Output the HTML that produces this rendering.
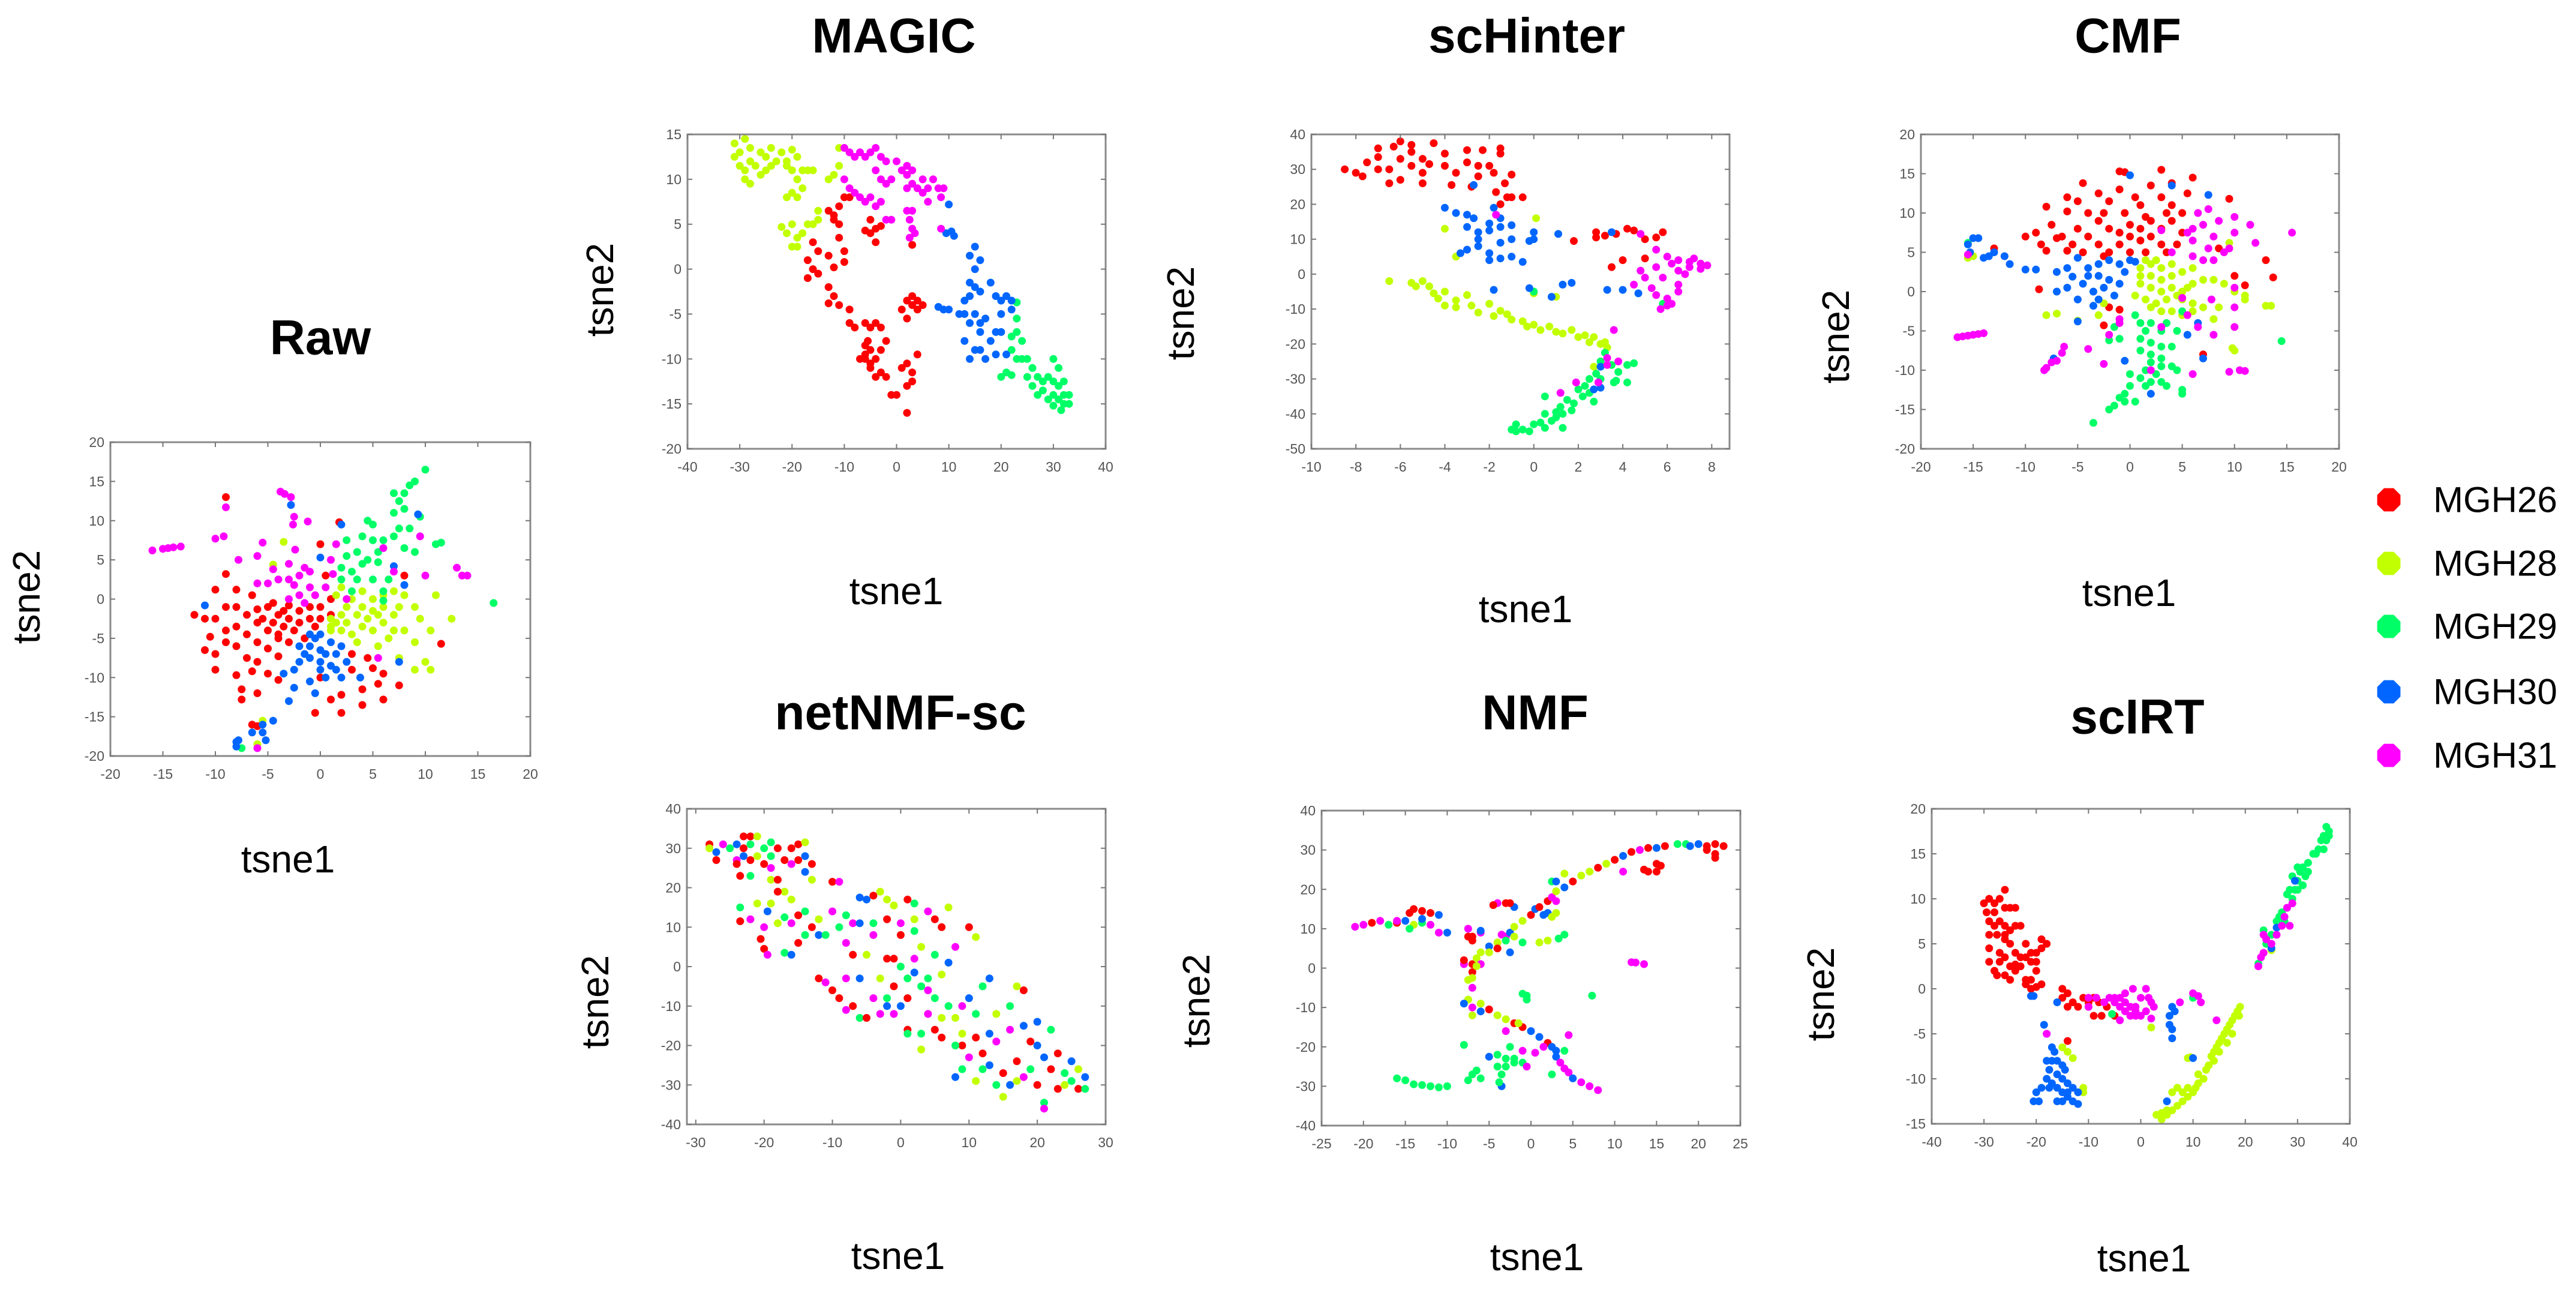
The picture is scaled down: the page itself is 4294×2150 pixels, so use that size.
<!DOCTYPE html>
<html><head><meta charset="utf-8"><style>
html,body{margin:0;padding:0;background:#fff;}
svg{display:block;}
</style></head><body>
<svg id="fig" width="4294" height="2150" viewBox="0 0 4294 2150" xmlns="http://www.w3.org/2000/svg" font-family="Liberation Sans, sans-serif"></svg>
<script>
// ---------- data ----------
const groupNames = ["MGH26","MGH28","MGH29","MGH30","MGH31"];
const groupColors = ["#ff0000","#c2ff00","#00ff66","#0066ff","#ff00ff"];

const rawXTicks=[-20,-15,-10,-5,0,5,10,15,20];
const rawYTicks=[-20,-15,-10,-5,0,5,10,15,20];
const magicXTicks=[-40,-30,-20,-10,0,10,20,30,40];
const magicYTicks=[-20,-15,-10,-5,0,5,10,15];
const schXTicks=[-10,-8,-6,-4,-2,0,2,4,6,8];
const schYTicks=[-50,-40,-30,-20,-10,0,10,20,30,40];
const cmfXTicks=[-20,-15,-10,-5,0,5,10,15,20];
const cmfYTicks=[-20,-15,-10,-5,0,5,10,15,20];
const netXTicks=[-30,-20,-10,0,10,20,30];
const netYTicks=[-40,-30,-20,-10,0,10,20,30,40];
const nmfXTicks=[-25,-20,-15,-10,-5,0,5,10,15,20,25];
const nmfYTicks=[-40,-30,-20,-10,0,10,20,30,40];
const scirtXTicks=[-40,-30,-20,-10,0,10,20,30,40];
const scirtYTicks=[-15,-10,-5,0,5,10,15,20];

const rawRed=[[-12,-2],[-11,-2.5],[-10,-2.5],[-10,1.2],[-9,-1],[-9,-4],[-9,-5.5],[-9,3.2],[-8,-1],[-8,1.2],[-8,-3.5],[-8,-6],[-8,-9.7],[-7.5,-11.5],[-7.5,-12.8],[-7,-2],[-7,-4.5],[-7,-7.5],[-6.5,0.5],[-6.5,-9.2],[-6,-1.3],[-6,-3],[-6,-5.5],[-6,-8],[-6,-12],[-5.5,-2.5],[-5,-1],[-5,-4],[-5,-6.3],[-5,-9.5],[-4.5,-0.5],[-4.5,-3],[-4,-2],[-4,-4.5],[-4,-10.3],[-4,-7.3],[-3.5,-1.5],[-3.5,-3.5],[-3,-0.8],[-3,-2.5],[-3,-5.5],[-2.5,-4],[-2,-1.5],[-2,-3],[-1.5,-5],[-1,-1],[-1,-2.5],[-0.5,-3.5],[0,-1],[0,-2.5],[0,7],[0.5,3],[1.8,9.8],[0,-10],[-0.5,-14.5],[2,-14.5],[1,-12.8],[2,-12.2],[3,-9],[4,-11.5],[4,-13.5],[4.5,-7.5],[5,-8.8],[6,-9.5],[5.5,-10.8],[6,-12.8],[7.5,-11],[8,3],[11.5,-5.7],[-11,-6.5],[-10,-7],[-10,-9],[-6.5,-16],[-6,-16.2],[-4,-5],[1,0],[1,-2],[-10.5,-4.8],[3,-7],[-9,13]];
const rawYellow=[[1,-2.5],[1,-3.5],[1,-4],[1.5,-3],[2,-2],[2,-4],[2.5,-1],[2.5,-3],[3,0],[3,-4.5],[3.5,-2],[3.5,-5.5],[4,1],[4,-1],[4,-3.5],[4.5,-2.5],[5,0],[5,-1.5],[5,-4],[5.5,-2],[5.5,-6],[6,0.5],[6,-1],[6,-3],[6.5,-5],[7,1],[7,-2],[7,-4],[7.5,-1],[8,0.5],[8,-4],[9,-1],[9,-5.5],[9.5,-2.5],[10,-8],[10.5,-9],[11,0.5],[10.5,-4],[12.5,-2.5],[9,-9],[-3.5,7.3],[-4.5,4.4],[-6,-18.5],[-5.5,-15.5],[7.5,-7.5],[2,1.5],[1.5,0.5]];
const rawGreen=[[2,4],[2,2.5],[2.5,5.5],[2.5,7.5],[3,1],[3.5,6],[3.5,2.5],[4,4.5],[4,8],[4.5,10],[4.5,5],[5,7.5],[5,9.5],[5,2.5],[5.5,4.7],[5.5,6],[6,7.5],[6,1],[6.5,2.5],[7,8],[7,11],[7,13.5],[7.5,12.5],[7.5,9],[8,6.5],[8,13.5],[8,11.5],[8.5,14.5],[8.5,9],[9,15],[9,6],[9.5,10.5],[10,16.5],[11,7],[11.5,7.2],[16.5,-0.5],[-7.5,-19],[6,-0.2],[3,3.5]];
const rawBlue=[[-11,-0.8],[-1,-4.5],[-1,-6],[-1,-7.5],[-1.5,-7],[-2,-6],[-2,-8],[-2.5,-9],[-2.5,-11.3],[-3,-13],[-3.5,-9.5],[-0.5,-5],[0,-4.5],[0,-6.5],[0,-8],[0,-9],[0.5,-7],[0.5,-10],[1,-5.5],[1,-8.5],[1.5,-7],[1.5,-9],[2,-6],[2,-10],[2.5,-8],[-1,-10.5],[-0.5,-12],[-4.5,-15.5],[-5.5,-16],[-5.5,-17],[-5.2,-18],[-6.5,-17],[-8,-18.2],[-8,-18.8],[-7.8,-18],[0,5.3],[9.3,10.8],[7,4.2],[8,1.8],[7.5,-8],[2,9.5],[3.8,-10],[-2.8,12]];
const rawMagenta=[[-16,6.2],[-15,6.4],[-14.5,6.5],[-14,6.6],[-13.3,6.7],[-9,11.7],[-10,7.7],[-9.2,8],[-3.8,13.7],[-3.4,13.4],[-2.8,13],[-2.5,10.5],[-2.6,9.5],[-1.2,9.9],[-7.8,5],[-6,5.5],[-5.5,7.2],[-4.5,3.8],[-2.4,6.3],[-3,4.5],[-4,2.5],[-6,2],[-5,2],[-3,2.5],[-2,3],[-1.5,4],[-1,3.5],[-1,1.5],[-0.5,0.5],[-2,0.5],[0.5,1.5],[1,5],[1.5,7],[1.2,3.2],[2.5,0],[-2.5,1.8],[-3,0],[-1.5,-0.5],[6,6.5],[7,3.5],[10,3],[13,4],[13.5,3],[14,3],[-6,-19],[5.5,-7.5],[9.5,8]];

const magicYellow=[[-31,14],[-30,13],[-29,14.5],[-28,13.5],[-31,12.5],[-30,11.5],[-29,11],[-28,12],[-27,11.5],[-29,10],[-28,9.5],[-26,13],[-25,12.5],[-24,13.5],[-25,11],[-26,10.5],[-24,11.5],[-23,12],[-22,13],[-21,12],[-20,13.3],[-19,12.5],[-20,11],[-21,11.5],[-19,10],[-18,11],[-17,11],[-16,11],[-19,8],[-20,8.5],[-21,8],[-18,9],[-13,10],[-12,10.5],[-11,11.5],[-11,13.5],[-22,4.7],[-21,4],[-20,5],[-19,3.5],[-20,2.5],[-19,2.5],[-18,4],[-17,5],[-16,5],[-15,6.5],[-15,5.5]];
const magicMagenta=[[-10,13.5],[-9,13],[-8,12.5],[-7,13],[-6,12.5],[-5,13],[-4,13.5],[-3,12.5],[-2,12],[0,12],[1,11],[2,11.5],[2,10.5],[3,11],[-4,11],[-3,10],[-2,9.5],[-1,10],[2,9],[3,9.5],[4,9],[5,10],[6,9],[7,10],[8,9],[9,9],[8.5,8],[6,7.5],[5,8.5],[-10,10],[-9,9],[-8,8.5],[-7,8],[-6,7.5],[-5,8],[-4,7],[-3,7.5],[-1,5.5],[-2,5.5],[2,6.5],[3,6.5],[2.5,5.5],[3,4.5],[3.5,4],[2.5,3.5],[8.5,4.5]];
const magicRed=[[-13,6.5],[-12,6],[-11,7],[-10,8],[-9,8],[-12,5.5],[-11,5],[-11,3.5],[-10,2],[-10,0.8],[-13,1.5],[-12,0.2],[-15,2],[-16,3],[-17,1],[-16,0],[-17,-1],[-15,-0.5],[-13,-2],[-13,-3.8],[-12,-3],[-11,-4],[-9,-4.5],[-9,-6],[-8,-6.5],[-6,-6],[-5,-6.5],[-4,-6],[-3,-6.5],[-6,-8.5],[-5,-9],[-6,-10],[-5,-11],[-4,-10],[-3,-9],[-2,-8],[-3,-11.5],[-2,-12],[-4,-12],[-1,-14],[0,-14],[1,-11],[2,-10.5],[3,-11.5],[3,-12.5],[2,-13],[2,-16],[1,-4.5],[2,-5.5],[2,-3.5],[3,-4],[4,-3.5],[3,-3],[4,-4.5],[5,-4],[4,-9.5],[-4,4.5],[-5,4],[-4,3],[-3,4.8],[-6,4.3],[-5,5.5],[3,2.7],[-7,-10],[-5,-10.5],[-6,-9.5],[-5.5,-8]];
const magicBlue=[[10,7.2],[9.5,4],[10.5,4.2],[11,3.7],[15,2.5],[14,1.5],[16,1],[15,0],[14,-1.5],[15,-2],[16,-2.5],[13,-3.5],[14,-3],[15,-5],[13,-5],[12,-5],[9,-4.5],[8,-4.2],[10,-4.5],[14,-6],[16,-6],[17,-5.5],[18,-1.5],[19,-3],[20,-3.5],[21,-3],[22,-3.5],[22,-4.5],[20,-5],[19,-7],[20,-7],[14,-10],[15,-9],[16,-9],[17,-10],[18,-8],[16,-7],[21,-9.5],[19,-9.5],[13,-8]];
const magicGreen=[[23,-3.7],[23,-5.5],[23,-7],[22,-7.5],[24,-8],[22,-9],[23,-10],[24,-10],[25,-10],[26,-11],[25,-12],[27,-12],[26,-13],[28,-12.5],[29,-12],[30,-10],[31,-11],[30,-12.5],[31,-13],[32,-12.5],[30,-14],[31,-14.5],[32,-15],[33,-15],[32,-14],[33,-14],[28,-13.5],[27,-14],[29,-14.5],[20,-12],[21,-11.5],[22,-11.8],[30,-15.2],[31.5,-15.7]];

const schRed=[[-8.5,30],[-8,29],[-7.7,28],[-7.5,32],[-7,33.5],[-7,36],[-7,30],[-6.5,30],[-6,33],[-6.3,36.5],[-6,38],[-5.5,37],[-5.5,35],[-5.5,31],[-5,33],[-5,29],[-4.7,31.5],[-4.5,37.5],[-4,34.5],[-4,31],[-3.5,29],[-3,35.5],[-3,32],[-2.5,31],[-2.5,28],[-2.3,35.5],[-2,31],[-1.8,29],[-1.5,36],[-1.5,34.5],[-1.3,26],[-1.7,23.5],[-1.5,20],[-1.2,22],[-1,22],[-0.5,22],[-1,28.5],[-6.5,26],[-6,27],[-5,26],[-3.7,25.5],[-2.8,25],[1.8,9.5],[2.8,12],[2.8,10.5],[3.2,11],[3.7,11.5],[4.2,13],[4.5,12.5],[5.5,10.5],[5.8,12],[4,4],[5,4.5],[3.5,2],[5,10]];
const schBlue=[[-4,19],[-3.5,17.5],[-3,17],[-2.7,16],[-3,13.5],[-2.5,12],[-2.5,10],[-2,12.5],[-2,14.5],[-1.5,13.5],[-1.8,19],[-1.5,16],[-1,14],[-1,10],[-1.5,9],[-2.5,8],[-3,7],[-3.3,6],[-2,6],[-1.5,4.5],[-2,4],[-1,5],[-0.5,3.5],[-0.2,9.5],[0,10],[0,12],[1.1,11.5],[-2.7,25.5],[-1.8,-4.5],[-0.2,-4],[0.8,-6.5],[1.3,-3],[1.7,-2.5],[3.3,-4.5],[4,-4.5],[4.7,-5.5],[3.5,12],[3,-26.5],[2.7,-33],[3,-32.5]];
const schYellow=[[-6.5,-2],[-5.5,-2.5],[-5,-2],[-4.7,-3.5],[-4.5,-5.5],[-4.3,-7],[-4,-5],[-4,-9],[-3.5,-7.5],[-3.5,-9.5],[-3,-6],[-2.8,-9],[-2.5,-11],[-2,-8.5],[-1.8,-12],[-1.5,-10.5],[-1.2,-11.5],[-1,-13],[-0.5,-13.5],[-0.3,-15],[0,-14.5],[0.3,-16],[0.7,-15],[1,-16.5],[1.3,-17],[1.7,-16],[2,-18],[2.3,-17.5],[2.5,-19.5],[2.7,-18],[3,-20],[3.2,-19.5],[3.3,-21],[-4,13],[-3.5,5],[0.1,16],[0,-5.5],[1,-6.5],[2.7,-26.5],[-5.3,-3.5]];
const schGreen=[[3.2,-22.5],[3,-25],[3.5,-26],[3.8,-28],[4.2,-31],[3.6,-31],[3,-30],[2.8,-28.5],[2.5,-30],[2.3,-32],[2.5,-34],[2.7,-36.5],[2.2,-35],[2,-33],[1.8,-37],[1.7,-39],[1.5,-36],[1.2,-38],[1.3,-40],[1,-41],[1,-39.5],[0.8,-42],[0.5,-40],[0.3,-42.5],[0.5,-44],[0,-43],[-0.2,-45],[-0.5,-44.5],[-0.8,-43],[-0.8,-45],[-1,-44.5],[0.5,-35],[1.3,-44],[0,-5],[5.8,-8.5],[4.5,-25.5],[4.2,-26],[3.7,-30.5]];
const schMagenta=[[-1.7,17],[3.6,-16],[3.3,-24],[3.3,-26],[3.8,-25],[2.9,-31],[1.2,-34],[1.9,-31],[4.8,11.5],[5.5,7],[6,5],[6.5,4],[6.2,3],[7,2],[7,3.5],[7.5,1.5],[7.8,2.5],[6.5,1],[5.5,2],[5.8,-1],[5,-1],[4.5,-3],[5.3,-4],[5.5,-6],[6,-7],[6,-9],[5.7,-10],[6.2,-8.5],[6.5,-5],[6.5,-3],[6.8,0],[7.5,3],[4.8,1],[7.2,4.5]];

const cmfRed=[[-1,15.3],[-0.5,15.2],[3,15.5],[6,14.5],[-4.5,13.8],[-1,13],[2,13.5],[4,13.8],[5.5,12.5],[-6,12],[-3,12.5],[0.5,12],[3,12],[-8,10.8],[-5,11.5],[-2,11.5],[1,11],[4,11],[9.5,11.8],[-6,10.2],[-4,10],[-2.5,10],[-0.5,10],[1.5,9.5],[3.5,10],[5,10],[-10,7],[-9,7.5],[-7.5,8.5],[-6.5,7],[-5,8],[-3,9],[-2,8],[-1,7.5],[0,8.5],[1,8],[2,9],[3,8],[4,9],[-8.5,6],[-7,6.8],[-5.5,6],[-4,7],[-3,6],[-2,5],[-1,6],[0,7],[1,6.5],[2,7],[3,6],[4.5,6],[-8,5.2],[-6,5.2],[-4.5,5],[-2.5,4.5],[0,5],[1.5,5],[3.5,5],[5,7.5],[8.5,5.5],[10,2],[13,4],[13.7,1.8],[11,0.8],[-13,5.5],[-8.7,0.3],[-2,-2],[-1,-2.3],[-2.5,-4.3],[7,-8]];
const cmfBlue=[[-15.5,6],[-15,6.8],[-14.5,6.8],[-15.3,5],[-14,4.3],[-13.5,4.5],[-13,5],[-12,4.5],[-11.5,3.5],[-10,2.8],[-9,2.8],[-7,2.5],[-6,3],[-5,4.3],[-5.5,1.9],[-4.5,1],[-4,3],[-3,3.5],[-2,4],[-1,3.5],[0,4],[-4,2],[-3,2],[-2,1.5],[-1,1],[-0.5,2.5],[-3.5,0],[-2.5,0.5],[-1.5,-0.5],[-3,-1],[-6,0.5],[-7,0],[-5,-1],[-3.5,-1.8],[0,14.8],[4,13.5],[7.5,12.3],[0.5,3.8],[-5,-3.8],[5.5,-5.5],[6.5,-4],[-0.5,-8.8],[2,-13],[7,-8.5],[-7.3,-8.5]];
const cmfYellow=[[-15,4.5],[-15.5,4.3],[-12,4.5],[1,3],[1.5,4],[2,3.5],[2.5,4],[3,3],[4,3.5],[1,2],[2,2],[3,1.5],[4,2],[5,2.5],[6,3],[1,1],[2,0.5],[3,0],[4,0.5],[5,0],[6,1],[7,1.5],[8,1.5],[0.5,-0.5],[1.5,-1],[2.5,-1.5],[3.5,-1],[4.5,-0.5],[5,-1],[5.5,0.5],[6,-1.5],[2,-2],[3,-2.5],[4,-2.5],[5,-3],[6,-2.5],[7,-2],[8,-3.5],[8.5,-2],[9,1],[10,0],[11,-1],[11,-0.5],[13,-1.8],[13.5,-1.8],[9.5,5.5],[9.5,6.2],[10,-4.5],[10,-7.5],[9.8,-7.2],[-7,-2.8],[-8,-3],[-3,-3],[-5,-3.7],[-2.5,-1.5]];
const cmfGreen=[[0.5,-3],[1,-4],[1.5,-5],[2,-4],[1,-6],[2,-6.5],[3,-5],[3,-7],[1,-7.5],[2,-8],[3,-8.5],[4,-7],[2,-9],[1.5,-10],[2.5,-10.5],[3,-9.5],[4,-9.5],[4.5,-10],[1,-11],[0,-10.5],[1.5,-12],[2,-11.5],[0,-12],[-0.5,-13],[-1,-13.5],[-1.5,-14.5],[-2,-15],[-3.5,-16.7],[-0.5,-14],[0.5,-14],[3,-11.5],[3.5,-12],[5,-12.5],[5,-13],[-1,-6],[-2,-6.2],[-1.5,-4.5],[3.5,-4],[14.5,-6.3],[5,-2.5],[-15.5,6.2],[4.5,-5]];
const cmfMagenta=[[-16.5,-5.8],[-16,-5.7],[-15.5,-5.6],[-15,-5.5],[-14.5,-5.4],[-14,-5.3],[-15.5,4.7],[-8.2,-10],[-8,-9.7],[-7.5,-9],[-7,-8.8],[-6.5,-7.8],[-6.3,-7],[-4,-7.3],[-2.5,-9.2],[-2,-5.5],[-1,-4],[-1,-3.5],[2,-10],[3,-4.5],[6,-10.5],[9.5,-10.2],[10.5,-10],[11,-10.1],[5,-0.8],[5.5,-3],[6.5,-4.5],[6,4.5],[6.5,10],[7.5,10.5],[8.5,9],[10,9.5],[11.5,8.5],[15.5,7.5],[12,6.2],[6,8],[7,8.5],[8,7],[9,5],[10,7.5],[9.5,5.5],[7.5,5.5],[7,4],[8,4],[10,0.5],[10,-2],[10,-4.5],[8,-5.5],[7.8,-1],[3,7.8],[5.5,7.5],[4,5],[6,6.5]];

// [x, y, groupIndex]
const netPoints=[[-28,31,0],[-28,30,1],[-27,29,3],[-27,27,0],[-26,31,4],[-25,30,2],[-24,31,3],[-24,27,4],[-24,26,0],[-23.5,23,0],[-23,33,0],[-23,30,0],[-23,28,3],[-22,33,0],[-22,31,2],[-22,27,0],[-22,23,2],[-21,33,1],[-21,28,1],[-20,30,2],[-20,26,0],[-19,31.5,2],[-19,28,2],[-19,25,4],[-19,22,1],[-18,30,0],[-18,22,0],[-17,27,0],[-17,19,1],[-16,30,0],[-16,26,4],[-15,31,0],[-15,27,0],[-14,31.5,1],[-14,28,3],[-14,24,3],[-13,22,1],[-13,26,0],[-23.5,15,2],[-23.5,11.5,0],[-22,12,4],[-21,16,1],[-20,10,4],[-19.5,14,3],[-19,16,1],[-18,11,1],[-17,12.5,2],[-16,11,4],[-15,13,0],[-14,14,2],[-20.5,7,0],[-20,4.5,0],[-19.5,3,4],[-17,3.5,2],[-16,3,3],[-15,6,0],[-14,8,2],[-13,10,0],[-12,8,3],[-11,8,2],[-10,14,4],[-10,21.5,0],[-9,21.5,4],[-9,10,2],[-8,6,4],[-7,11,4],[-7,3,0],[-6,11,3],[-6,17.5,3],[-5,17,3],[-4,18,0],[-3,19,1],[-2,17,1],[-1,15.5,1],[1,17,0],[2,16,2],[-12,-3,0],[-10,-6,0],[-9,-8,0],[-8,-11,4],[-7,-10,0],[-6,-13,2],[-5,-13,0],[-4,-8,4],[-3,-3,1],[-3,-12,4],[-2,-8,2],[-1,-12,4],[0,-10,3],[-5,3,1],[-4,8,4],[-2,2,0],[-1,2,0],[0,0,2],[0,8,0],[0,11,4],[1,-16,0],[1,-17,2],[2,9,2],[2,2,4],[2,-1.5,3],[3,5,1],[3,-5,2],[3,-17,2],[3,-21,1],[4,14,4],[4,-3,2],[4,-12,4],[5,12,0],[5,3,2],[5,-8,2],[5,-16,0],[6,10,0],[6,-18,0],[7,15,1],[7,-10,2],[8,-28,3],[8,5,4],[9,-17,1],[9,-20,0],[9,-26,2],[10,10,0],[10,-8,3],[10,-23,4],[11,-18,0],[11,-29,1],[11,7.5,1],[12,-5,2],[12,-22,0],[12,-26,2],[13,-3,3],[13,-25,3],[13,-17,3],[14,-30,2],[14,-12,1],[15,-27,0],[15,-33,1],[16,-16,4],[16,-10,2],[16,-30,3],[17,-29,1],[17,-5,1],[17,-24,0],[18,-15,3],[18,-6,0],[19,-19,0],[19,-26,2],[20,-14,3],[20,-30,0],[21,-23,3],[21,-34.5,2],[21,-36,4],[22,-26,0],[22,-16,2],[23,-22,0],[23,-31,0],[24,-27,2],[25,-24,3],[25,-29,2],[26,-31,0],[26,-26,1],[27,-28,3],[27,-31,2],[18,-28,4],[8,-20,2],[7,1,3],[-8,-3,4],[-11,-4,4],[-6,-3,3],[-2,-10,3],[1,-8,0],[4,-6,4],[6,-13,1],[8,-13,1],[11,-12,2],[14,-19,4],[-18,19,0],[-16,17,1],[-12,12,1],[-8,13,2],[-4,11,2],[-2,12,0],[2,12,1],[-1,-5,0],[1,-3,2],[6,-2,1],[9,-10,4],[20,-20,3],[24,-30,1]];

const nmfPoints=[[-7,-5,4],[-7.5,-3,1],[-7,-1,0],[-7,1,0],[-6.5,2.5,1],[-6,4,1],[-5,5.5,3],[-4,6.5,1],[-3,8,4],[-2.5,9,3],[-2,10.5,1],[-1,12,1],[0,13.5,0],[0.5,15,3],[1,15.5,0],[2,17,0],[2.5,18,4],[3,19.5,1],[4,20.5,3],[5,22,0],[6,23.5,1],[7,24.5,1],[8,25.5,0],[9,26.5,1],[10,27.5,0],[11,28.5,3],[12,29.5,0],[13,30,4],[14,30.5,0],[15,30.5,3],[16,31,0],[17.5,31.5,2],[18.5,31.5,2],[19,31,3],[20,31.5,3],[21,31,0],[22,31.5,0],[23,31,0],[22,29,0],[21,30,0],[22,28,0],[13.5,25,0],[15,26.5,0],[11,24.5,4],[2,14,3],[1.5,13.5,3],[3,17,4],[3,14,1],[-2,8,1],[-3.5,8.5,4],[-4,5,0],[-5,4,1],[-6,1,4],[-8,1,4],[-7,-2.5,1],[-6.5,0.5,1],[4,24,1],[2.5,22,2],[3,22,3],[-4,16.5,4],[-3,16.5,0],[-2,15.5,3],[2.5,13,1],[-6,9,4],[-7.5,10,4],[-7,8,0],[-6,9.5,3],[-3,7,2],[-1,6.5,2],[1,6.5,1],[2,7,1],[3.3,7.5,2],[4,8.5,2],[-2.5,4,3],[-7.5,-8,1],[-7,-10,4],[-6,-9,1],[-6,-11,3],[-5,-10.5,0],[-4,-12,1],[-3,-13,1],[-2,-14,0],[-1,-15,0],[0,-16,3],[1,-17.5,3],[2,-19,0],[2.5,-20,3],[3,-21,3],[3,-22.5,3],[3.5,-24,4],[4,-25.5,4],[4.5,-26.5,4],[5,-28,3],[6,-29,4],[7,-30,4],[8,-31,4],[-8,-9,3],[-7,-12,1],[-3,-16,4],[-1.5,-14,1],[1.5,-20,4],[4,-21,2],[-21,10.5,4],[-20,11,4],[-19,11.5,0],[-18,12,4],[-17,11,2],[-16,11.5,0],[-15,12,3],[-14,11,1],[-13,11.5,2],[-14.5,14,0],[-14,15,0],[-13,14.5,0],[-12,14,0],[-11,13.5,3],[-13,12.5,3],[-12,11,4],[-11,9,4],[-10,9,3],[-14.5,10,2],[-16,12,4],[-16,-28,2],[-15,-28.5,2],[-14,-29.5,2],[-13,-29.7,2],[-12,-30,2],[-11,-30.3,2],[-10,-30,2],[-7.5,-28.5,2],[-7,-27,2],[-6.5,-26,2],[-6,-28,2],[-8,-19.5,2],[-4,-22,2],[-4,-25,2],[-3.5,-27,2],[-3,-23,2],[-3,-25,2],[-2.5,-20,2],[-2,-23,2],[-2,-24,2],[-1,-24,2],[-3.5,-30,3],[-3.8,-29,2],[-5,-22.5,3],[-1,-21,4],[-0.5,-25,4],[0.5,-21.5,4],[2.5,-27,2],[4.5,-17,4],[-0.5,-7,2],[-0.5,-8,2],[-1,-6.5,2],[7.3,-7,2],[12,1.5,4],[12.5,1.4,4],[13.5,1,4],[-4.5,16,0],[-2.5,16.5,0],[-7.5,8,0],[-7,7,0],[-8,2,0],[15,24.5,0],[14,24.5,0],[15.5,26,0]];

const scirtRed=[[-30,9.5],[-29,10],[-28,9.5],[-27,10],[-26,11],[-29.5,8.5],[-28,8.5],[-26,9],[-25,9],[-24,9],[-29,7.5],[-28,7],[-27,7.5],[-26,7],[-25,6.5],[-24,7],[-23,7],[-29,6],[-27.5,6],[-26,5.5],[-25,5],[-29,4.5],[-27,4],[-26,3.5],[-24,4],[-23,3.5],[-22,3.5],[-29,3],[-27,3],[-25,2.5],[-24,2],[-23,2.5],[-28,2],[-27.5,1.5],[-26,1.5],[-25,1],[-22,1],[-21,1],[-21,0],[-20,0.2],[-22,0.5],[-19,0.5],[-19,4.5],[-18,5],[-19,5.5],[-20,4],[-21,4],[-21,3],[-22,5],[-20,3],[-20,2],[-15,0],[-14,-0.5],[-15,-1],[-13,-1.5],[-14,-2],[-12,-2],[-11,-1],[-10,-1.5],[-10,-2],[-9,-1],[-8,-1.5],[-9,-3],[-7.5,-3],[-6.5,-2],[-5,-3],[-14,-5.8],[-24,2.7],[-26,6]];
const scirtBlue=[[-21,-0.8],[-20.5,-0.8],[-16,-1.5],[-18.5,-4],[-18,-5],[-17,-6.5],[-16.5,-7],[-18,-8],[-17,-8],[-16,-8],[-15,-8.5],[-17.5,-9],[-16,-9.5],[-14.5,-9],[-18,-10],[-17,-10.5],[-15,-10],[-14,-10.5],[-13,-11],[-17.5,-11],[-16,-11],[-15,-11.5],[-19,-11],[-20,-11.5],[-20.5,-12.5],[-19.5,-12.5],[-16,-12.5],[-15,-12.5],[-14,-12],[-13,-12.5],[-12,-12.8],[-12,-11.5],[-14,-11.5],[6,-2],[6.5,-2.5],[5.5,-3],[5.5,-4],[6,-4.5],[6,-5.5],[10,-7.7],[5,-12.5],[29.5,12],[26,6.8],[25,4.5]];
const scirtMagenta=[[-18,-5],[-10,-1],[-10,-2],[-8.5,-1],[-7,-1.5],[-6,-1],[-5,-1.5],[-5,-1],[-4,-1],[-3,-1.5],[-2,-2],[-1,-2],[0,-1],[1,0],[1.5,-1],[2,-1.5],[2.5,-2],[1,-2.5],[-1,-2.5],[0,-3],[-1,-3],[-2,-3],[-3,-2.5],[-4,-2],[-4,-3.5],[2,-3.3],[-3,-0.5],[-1.5,0],[10,-0.5],[11,-0.8],[11.5,-1.5],[7.5,-1.5],[14.5,-3.5],[22.5,2.5],[23,3.5],[23.5,4],[24,5.5],[23.5,6],[25,5],[26,6],[27,7],[27.5,8],[28,9],[28.5,7],[29,9.5]];
const scirtYellow=[[-15,-6.5],[-14,-7],[-13,-7.7],[-11,-11],[-11,-11.5],[2,-4.3],[3,-14],[4,-14.5],[5,-14],[6,-13.5],[7,-13],[8,-12.5],[9,-12],[10,-11.5],[10.5,-11],[11,-10.5],[9,-11],[7,-11],[8,-11.5],[5,-13.5],[4,-13.8],[12,-10],[12.5,-9],[13,-8.5],[13.5,-7.5],[14,-7],[14.5,-6.5],[15,-6],[15.5,-5.5],[16,-5],[16.5,-4.5],[17,-4],[17.5,-3.5],[18,-3],[18.5,-2.5],[19,-2],[18.8,-3],[17.5,-5],[16.5,-6],[15,-7],[14,-8],[11,-9.5],[9,-7.7],[9.5,-7.6],[25,4.3],[6,-11.5]];
const scirtGreen=[[22.5,2.8],[23.5,6.5],[24,5],[25,6],[26,7.5],[26.5,8],[27,8.5],[28,9],[28,10.5],[28.5,11],[29,10],[29.5,11],[29,12.5],[30,12],[30.5,13],[31,13.5],[31.5,12.5],[31,11.5],[30,11],[32,14],[33,15],[34,15.5],[34.5,16.5],[35,17],[35.5,18],[36,17.5],[35.5,16.5],[35,15.5],[33.5,15],[32,13],[30,13.5],[36,17],[27.5,7.5],[-5.5,-2.8],[10,-1]];

// ---------- layout ----------
const NS="http://www.w3.org/2000/svg";
const svg=document.getElementById('fig');
function mk(tag,attrs,parent){const e=document.createElementNS(NS,tag);for(const k in attrs)e.setAttribute(k,attrs[k]);(parent||svg).appendChild(e);return e;}

function panel(cfg){
  const g=mk('g',{});
  
  
  const [L,R,T,B]=cfg.box;
  const sx=v=>L+(v-cfg.xr[0])/(cfg.xr[1]-cfg.xr[0])*(R-L);
  const sy=v=>B-(v-cfg.yr[0])/(cfg.yr[1]-cfg.yr[0])*(B-T);
  // title
  const t=mk('text',{x:cfg.title[0],y:cfg.title[1],'font-size':82,'font-weight':'bold','text-anchor':'middle','dominant-baseline':'central',fill:'#000'},g);
  t.textContent=cfg.label;
  
  
  // axis labels
  const xl=mk('text',{x:cfg.xlab[0],y:cfg.xlab[1],'font-size':64,'text-anchor':'middle','dominant-baseline':'central',fill:'#000'},g);
  xl.textContent='tsne1';
  
  
  const yl=mk('text',{x:0,y:0,'font-size':64,'text-anchor':'middle','dominant-baseline':'central',fill:'#000',transform:`translate(${cfg.ylab[0]},${cfg.ylab[1]}) rotate(-90)`},g);
  yl.textContent='tsne2';
  
  
  // points
  const pg=mk('g',{},g);
  
  
  cfg.points.forEach(p=>{
    const c=mk('circle',{cx:sx(p[0]).toFixed(1),cy:sy(p[1]).toFixed(1),r:6.5,fill:groupColors[p[2]]},pg);
    
    
  });
  // box
  const bx=mk('rect',{x:L,y:T,width:R-L,height:B-T,fill:'none',stroke:'#8a8a8a','stroke-width':3},g);
  
  
  // ticks
  cfg.xt.forEach(v=>{
    const x=sx(v);
    mk('line',{x1:x,x2:x,y1:B,y2:B-8,stroke:'#777','stroke-width':2},g);
    mk('line',{x1:x,x2:x,y1:T,y2:T+8,stroke:'#777','stroke-width':2},g);
    const tl=mk('text',{x:x,y:B+30,'font-size':23,'text-anchor':'middle','dominant-baseline':'central',fill:'#555'},g);
    tl.textContent=String(v);
    
    
  });
  cfg.yt.forEach(v=>{
    const y=sy(v);
    mk('line',{x1:L,x2:L+8,y1:y,y2:y,stroke:'#777','stroke-width':2},g);
    mk('line',{x1:R,x2:R-8,y1:y,y2:y,stroke:'#777','stroke-width':2},g);
    const tl=mk('text',{x:L-10,y:y,'font-size':23,'text-anchor':'end','dominant-baseline':'central',fill:'#555'},g);
    tl.textContent=String(v);
    
    
  });
}
function grp(lists){const out=[];lists.forEach((l,gi)=>l.forEach(p=>out.push([p[0],p[1],gi])));return out;}

panel({name:'raw',label:'Raw',box:[184,884,737,1260],xr:[-20,20],yr:[-20,20],xt:rawXTicks,yt:rawYTicks,title:[534,563],xlab:[480,1432],ylab:[44,995],points:grp([rawRed,rawYellow,rawGreen,rawBlue,rawMagenta])});
panel({name:'magic',label:'MAGIC',box:[1146,1843,224,748],xr:[-40,40],yr:[-20,15],xt:magicXTicks,yt:magicYTicks,title:[1490,60],xlab:[1494,985],ylab:[1000,483],points:grp([magicRed,magicYellow,magicGreen,magicBlue,magicMagenta])});
panel({name:'schinter',label:'scHinter',box:[2186,2883,224,748],xr:[-10,8.8],yr:[-50,40],xt:schXTicks,yt:schYTicks,title:[2545,60],xlab:[2543,1015],ylab:[1968,522],points:grp([schRed,schYellow,schGreen,schBlue,schMagenta])});
panel({name:'cmf',label:'CMF',box:[3202,3899,224,748],xr:[-20,20],yr:[-20,20],xt:cmfXTicks,yt:cmfYTicks,title:[3547,60],xlab:[3549,988],ylab:[3060,561],points:grp([cmfRed,cmfYellow,cmfGreen,cmfBlue,cmfMagenta])});
panel({name:'netnmf-sc',label:'netNMF-sc',box:[1145,1843,1348,1874],xr:[-31.3,30],yr:[-40,40],xt:netXTicks,yt:netYTicks,title:[1501,1188],xlab:[1497,2093],ylab:[992,1670],points:netPoints});
panel({name:'nmf',label:'NMF',box:[2203,2901,1351,1876],xr:[-25,25],yr:[-40,40],xt:nmfXTicks,yt:nmfYTicks,title:[2559,1188],xlab:[2562,2095],ylab:[1994,1668],points:nmfPoints});
panel({name:'scirt',label:'scIRT',box:[3220,3917,1348,1873],xr:[-40,40],yr:[-15,20],xt:scirtXTicks,yt:scirtYTicks,title:[3563,1195],xlab:[3574,2097],ylab:[3035,1657],points:grp([scirtRed,scirtYellow,scirtGreen,scirtBlue,scirtMagenta])});

// legend
const lg=mk('g',{});


const legendY=[833,939,1044,1153,1259];
groupNames.forEach((n,i)=>{
  const e=mk('g',{},lg);
  
  
  const cx=3982,cy=legendY[i],r=21,pts=[];
  for(let k=0;k<8;k++){const a=Math.PI/8+k*Math.PI/4;pts.push((cx+r*Math.cos(a)).toFixed(1)+','+(cy+r*Math.sin(a)).toFixed(1));}
  mk('polygon',{points:pts.join(' '),fill:groupColors[i]},e);
  const t=mk('text',{x:4056,y:cy,'font-size':60,'dominant-baseline':'central',fill:'#000'},e);
  t.textContent=n;
});
</script>
</body></html>
